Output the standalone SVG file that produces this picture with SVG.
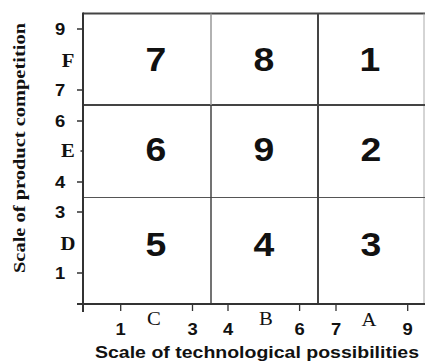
<svg xmlns="http://www.w3.org/2000/svg" width="425" height="364" viewBox="0 0 425 364">
<style>
.ax{stroke:#333;stroke-width:2;fill:none}
.thick{stroke:#444;stroke-width:2;fill:none}
.thin{stroke:#555;stroke-width:1.2;fill:none}
.tick{stroke:#333;stroke-width:1.3;fill:none}
.num{font-family:"Liberation Sans",Arial,sans-serif;font-weight:bold;font-size:16px;fill:#111;text-anchor:middle}
.let{font-family:"Liberation Serif","Times New Roman",serif;font-size:18px;fill:#111;text-anchor:middle}
.letb{font-family:"Liberation Serif","Times New Roman",serif;font-weight:bold;font-size:18px;fill:#111;text-anchor:middle}
.cell{font-family:"Liberation Sans",Arial,sans-serif;font-weight:bold;font-size:32.5px;fill:#111;text-anchor:middle}
.title{font-family:"Liberation Sans",Arial,sans-serif;font-weight:bold;font-size:16.5px;fill:#111}
.ytitle{font-family:"Liberation Serif","Times New Roman",serif;font-weight:bold;font-size:17px;fill:#111;text-anchor:middle}
</style>
<rect width="425" height="364" fill="#fff"/>
<g id="grid">
<line class="thick" x1="83" y1="13.5" x2="425" y2="13.5"/>
<line x1="424" y1="13.5" x2="424" y2="304" stroke="#aaa" stroke-width="1"/>
<line class="thick" x1="83" y1="105" x2="425" y2="105"/>
<line class="thin" x1="83" y1="197.5" x2="425" y2="197.5"/>
<line x1="211" y1="13.5" x2="211" y2="105" stroke="#999" stroke-width="1.5"/>
<line x1="211" y1="105" x2="211" y2="304" stroke="#444" stroke-width="1.5"/>
<line class="thick" x1="318" y1="13.5" x2="318" y2="304"/>
</g>
<g id="axes">
<line class="ax" x1="83" y1="12.5" x2="83" y2="312"/>
<line class="ax" x1="77" y1="304" x2="425" y2="304"/>
<path class="tick" d="M77 29H83M77 90H83M77 121H83M80.5 151H83M77 182H83M77 212H83M77 273H83"/>
<path class="tick" d="M120.7 304V311M192.5 304V311M228 304V311M299.6 304V311M336 304V311M407.7 304V311"/>
</g>
<g id="y-labels">
<text class="num" transform="translate(60,34.8) scale(1.15,1)">9</text>
<text class="letb" transform="translate(68,67) scale(1.15,1)">F</text>
<text class="num" transform="translate(60,95.8) scale(1.15,1)">7</text>
<text class="num" transform="translate(60,126.8) scale(1.15,1)">6</text>
<text class="letb" transform="translate(68,156.5) scale(1.15,1)">E</text>
<text class="num" transform="translate(60,187.8) scale(1.15,1)">4</text>
<text class="num" transform="translate(60,217.8) scale(1.15,1)">3</text>
<text class="letb" transform="translate(68,250) scale(1.15,1)">D</text>
<text class="num" transform="translate(60,278.8) scale(1.15,1)">1</text>
</g>
<g id="x-labels">
<text class="num" transform="translate(120.7,335) scale(1.15,1)">1</text>
<text class="let" transform="translate(154,325) scale(1.15,1)">C</text>
<text class="num" transform="translate(192.5,335) scale(1.15,1)">3</text>
<text class="num" transform="translate(228,335) scale(1.15,1)">4</text>
<text class="let" transform="translate(266,325) scale(1.15,1)">B</text>
<text class="num" transform="translate(299.6,335) scale(1.15,1)">6</text>
<text class="num" transform="translate(336,335) scale(1.15,1)">7</text>
<text class="let" transform="translate(369,326) scale(1.15,1)">A</text>
<text class="num" transform="translate(407.7,335) scale(1.15,1)">9</text>
</g>
<g id="cell-7"><text class="cell" transform="translate(156,70.7) scale(1.15,1)">7</text></g>
<g id="cell-8"><text class="cell" transform="translate(264,70.7) scale(1.15,1)">8</text></g>
<g id="cell-1"><text class="cell" transform="translate(370,70.7) scale(1.15,1)">1</text></g>
<g id="cell-6"><text class="cell" transform="translate(156,161) scale(1.15,1)">6</text></g>
<g id="cell-9"><text class="cell" transform="translate(264,161) scale(1.15,1)">9</text></g>
<g id="cell-2"><text class="cell" transform="translate(371,161) scale(1.15,1)">2</text></g>
<g id="cell-5"><text class="cell" transform="translate(156,256) scale(1.15,1)">5</text></g>
<g id="cell-4"><text class="cell" transform="translate(264,256) scale(1.15,1)">4</text></g>
<g id="cell-3"><text class="cell" transform="translate(371,256) scale(1.15,1)">3</text></g>
<text class="title" x="95" y="358" textLength="324" lengthAdjust="spacingAndGlyphs">Scale of technological possibilities</text>
<text class="ytitle" transform="translate(25,148) rotate(-90)" textLength="250" lengthAdjust="spacingAndGlyphs">Scale of product competition</text>
</svg>
